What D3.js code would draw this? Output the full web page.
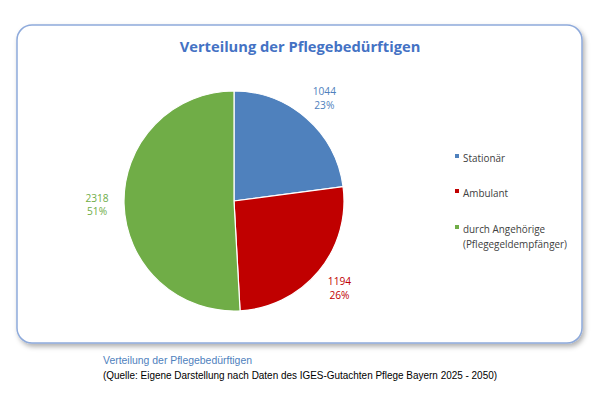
<!DOCTYPE html>
<html><head><meta charset="utf-8">
<script src="https://cdn.jsdelivr.net/npm/d3@7"></script>
<style>body{margin:0;background:#fff}svg{display:block}</style>
</head><body>
<svg id="c" width="602" height="399"></svg>
<script>
const categories = ["Stationär", "Ambulant", "durch Angehörige (Pflegegeldempfänger)"];
const legendLines = [["Stationär"], ["Ambulant"], ["durch Angehörige", "(Pflegegeldempfänger)"]];
const values = [1044, 1194, 2318];
const percents = ["23%", "26%", "51%"];
const colors = ["#4f81bd", "#c00000", "#70ad47"];
const title = "Verteilung der Pflegebedürftigen";
const caption1 = "Verteilung der Pflegebedürftigen";
const caption2 = "(Quelle: Eigene Darstellung nach Daten des IGES-Gutachten Pflege Bayern 2025 - 2050)";

const svg = d3.select("#c");
const defs = svg.append("defs");
const f = defs.append("filter").attr("id","sh").attr("x","-5%").attr("y","-5%").attr("width","115%").attr("height","120%");
f.append("feDropShadow").attr("dx",2).attr("dy",3).attr("stdDeviation",2.5).attr("flood-color","#000").attr("flood-opacity",0.3);

svg.append("rect").attr("x",17).attr("y",25).attr("width",565).attr("height",318)
  .attr("rx",15).attr("ry",15).attr("fill","#fff").attr("stroke","#8eaadb").attr("stroke-width",1.5)
  .attr("filter","url(#sh)");

svg.append("text").attr("x",300).attr("y",52).attr("text-anchor","middle")
  .attr("font-family","Open Sans, sans-serif").attr("font-weight","bold").attr("font-size",14.7)
  .attr("fill","#4472c4").text(title);

const cx = 234, cy = 201, R = 110;
const pie = d3.pie().sort(null).value(d => d)(values);
const arc = d3.arc().innerRadius(0).outerRadius(R);
const labelArc = d3.arc().innerRadius(137).outerRadius(137);
const g = svg.append("g").attr("transform", `translate(${cx},${cy})`);
g.selectAll("path").data(pie).join("path").attr("d", arc)
  .attr("fill", (d,i) => colors[i]).attr("stroke","#fff").attr("stroke-width",1.2);

g.selectAll("text.lab").data(pie).join("text").attr("class","lab")
  .attr("transform", d => `translate(${labelArc.centroid(d)})`)
  .attr("text-anchor","middle").attr("font-family","Open Sans, sans-serif").attr("font-size",10.2)
  .attr("fill",(d,i)=>colors[i])
  .each(function(d,i){
    const t = d3.select(this);
    t.append("tspan").attr("x",0).attr("dy","-0.3em").text(values[i]);
    t.append("tspan").attr("x",0).attr("dy","1.35em").text(percents[i]);
  });

const legY = [158, 193, 229];
const lg = svg.append("g");
legendLines.forEach((lines, i) => {
  lg.append("rect").attr("x",455).attr("y",legY[i]-4).attr("width",4).attr("height",4).attr("fill",colors[i]);
  lines.forEach((l, j) => {
    lg.append("text").attr("x",463).attr("y",legY[i]+4+j*15)
      .attr("font-family","Open Sans, sans-serif").attr("font-size",9.9).attr("fill","#404040").text(l);
  });
});

svg.append("text").attr("x",103).attr("y",364).attr("font-family","Liberation Sans, sans-serif")
  .attr("font-size",11).attr("fill","#4f81bd").attr("textLength",149).attr("lengthAdjust","spacingAndGlyphs").text(caption1);
svg.append("text").attr("x",103).attr("y",379).attr("font-family","Liberation Sans, sans-serif")
  .attr("font-size",11).attr("fill","#000").attr("textLength",394).attr("lengthAdjust","spacingAndGlyphs").text(caption2);
</script>
</body></html>
